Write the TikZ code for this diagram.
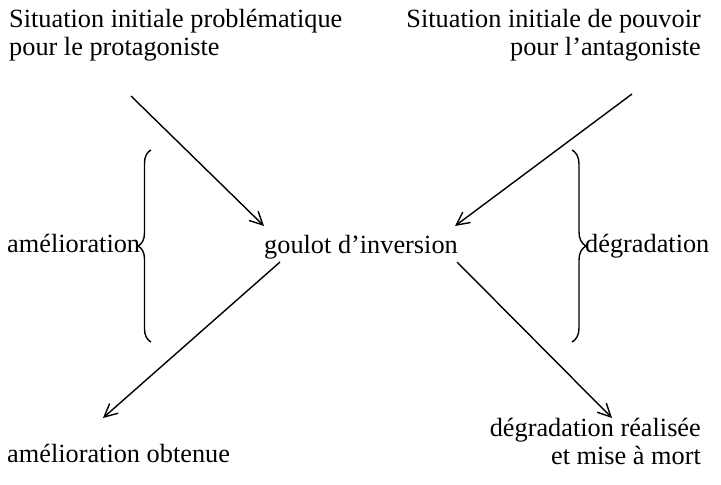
\documentclass[tikz,border=0pt]{standalone}
\usepackage{fontspec}
\setmainfont{Liberation Serif}
\usetikzlibrary{arrows.meta,decorations.pathreplacing}
\begin{document}
\begin{tikzpicture}[x=1pt,y=-1pt,
  lbl/.style={inner sep=0pt, font=\fontsize{26.3}{28}\selectfont},
  arr/.style={line width=1.4pt, -{Straight Barb[length=13pt,width=13pt]}},
  brc/.style={line width=1.4pt, decorate, decoration={brace,amplitude=#1}}]
\useasboundingbox (0,0) rectangle (721,485);
\node[lbl, anchor=base west, align=left] (tl) at (9,55) {Situation initiale problématique\\pour le protagoniste};
\node[lbl, anchor=base east, align=right] (tr) at (701,55) {Situation initiale de pouvoir\\pour l’antagoniste};
\node[lbl, anchor=base] (g) at (361,253) {goulot d’inversion};
\node[lbl, anchor=base west] (am) at (7,252) {amélioration};
\node[lbl, anchor=base west] (dg) at (585,252) {dégradation};
\node[lbl, anchor=base west] (bl) at (7,462) {amélioration obtenue};
\node[lbl, anchor=base east, align=right] (br) at (701,464) {dégradation réalisée\\et mise à mort};
\coordinate (s1) at (131,96);
\coordinate (e1) at (264,226);
\coordinate (s2) at (632,94);
\coordinate (e2) at (455,226);
\coordinate (s3) at (280,262);
\coordinate (e3) at (103,418);
\coordinate (s4) at (457,262);
\coordinate (e4) at (612,418);
\draw[arr] (s1) -- (e1);
\draw[arr] (s2) -- (e2);
\draw[arr] (s3) -- (e3);
\draw[arr] (s4) -- (e4);
\coordinate (lb1) at (151,342);
\coordinate (lb2) at (151,150);
\coordinate (rb1) at (572,150);
\coordinate (rb2) at (572,342);
\draw[brc=13pt] (lb1) -- (lb2);
\draw[brc=14pt] (rb1) -- (rb2);
\end{tikzpicture}
\end{document}
